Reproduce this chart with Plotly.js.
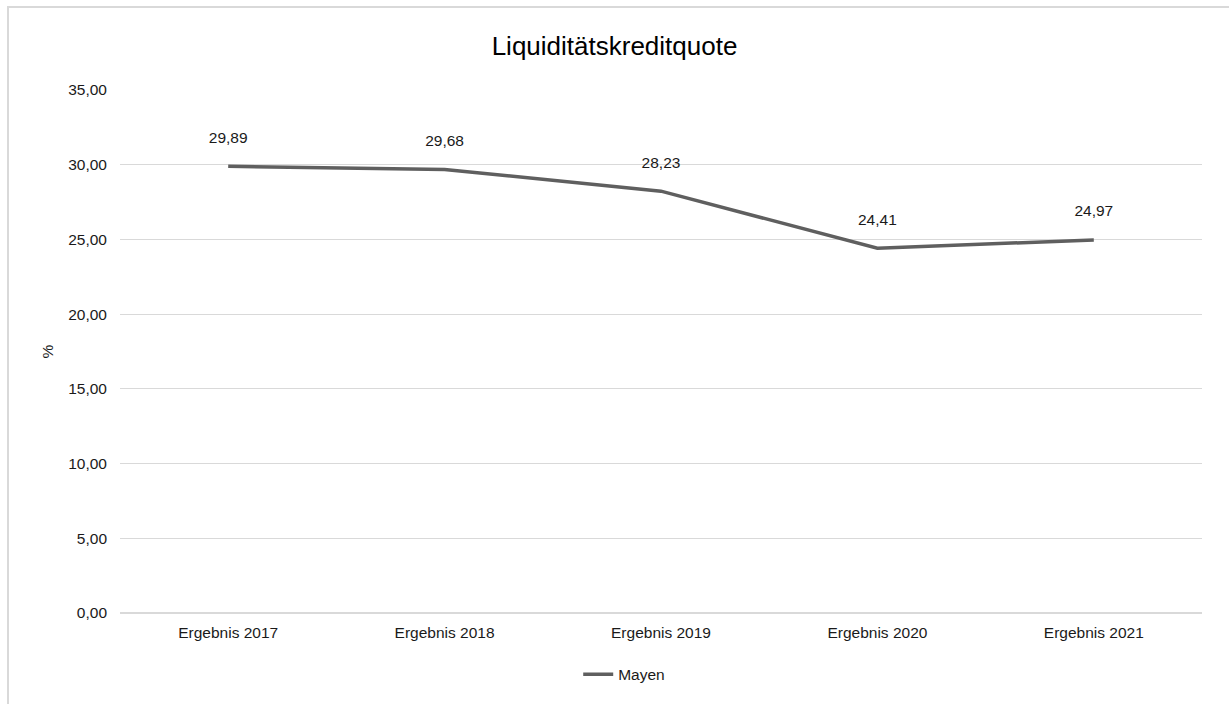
<!DOCTYPE html>
<html><head><meta charset="utf-8">
<script src="https://cdn.plot.ly/plotly-3.0.1.min.js"></script>
<style>
html,body{margin:0;padding:0;overflow:hidden;background:#fff;}
#frame{position:absolute;left:7px;top:6px;width:1300px;height:800px;border:2px solid #d9d9d9;box-sizing:border-box;}
#chart{position:absolute;left:0;top:0;width:1229px;height:704px;}
</style></head>
<body>
<div id="frame"></div>
<div id="chart"></div>
<script>
const categories = ["Ergebnis 2017","Ergebnis 2018","Ergebnis 2019","Ergebnis 2020","Ergebnis 2021"];
const seriesName = "Mayen";
const values = [29.89, 29.68, 28.23, 24.41, 24.97];
const titleText = "Liquiditätskreditquote";
const yTitle = "%";

const font = "Liberation Sans, Arial, sans-serif";
const fs = 15.5;
const col = "#1a1a1a";
const traces = [
  {x: categories, y: values, type: "scatter", mode: "lines", name: seriesName,
   line: {color: "#5f5f5f", width: 3.5}, hoverinfo: "skip"},
  {x: categories, y: values, type: "scatter", mode: "markers+text", showlegend: false,
   marker: {size: 30, color: "rgba(0,0,0,0)"}, texttemplate: "%{y:.2f}",
   textposition: "top center", textfont: {family: font, size: fs, color: col}, hoverinfo: "skip"}
];
const layout = {
  width: 1229, height: 704,
  paper_bgcolor: "rgba(0,0,0,0)", plot_bgcolor: "rgba(0,0,0,0)",
  separators: ",.",
  font: {family: font, size: fs, color: col},
  title: {text: titleText, font: {family: font, size: 26, color: "#000"}, x: 0.5, xanchor: "center", y: 0.935, yanchor: "middle"},
  margin: {l: 120, r: 27, t: 90, b: 91},
  xaxis: {type: "category", range: [-0.5, 4.5], showgrid: false, zeroline: false, showline: false,
          ticks: "", ticklabelstandoff: 8, tickfont: {family: font, size: fs, color: col}, fixedrange: true},
  yaxis: {range: [0, 35], dtick: 5, tickformat: ".2f", showgrid: true, gridcolor: "#d9d9d9", gridwidth: 1,
          zeroline: true, zerolinecolor: "#d9d9d9", zerolinewidth: 1.5, showline: false, ticks: "",
          ticklabelstandoff: 12, tickfont: {family: font, size: fs, color: col},
          title: {text: yTitle, font: {family: font, size: fs, color: col}, standoff: 10}, fixedrange: true},
  showlegend: true,
  legend: {orientation: "h", x: 0.466, xanchor: "center", y: -0.118, yanchor: "middle", font: {family: font, size: fs, color: col}}
};
Plotly.newPlot("chart", traces, layout, {displayModeBar: false, staticPlot: true});
</script>
</body></html>
